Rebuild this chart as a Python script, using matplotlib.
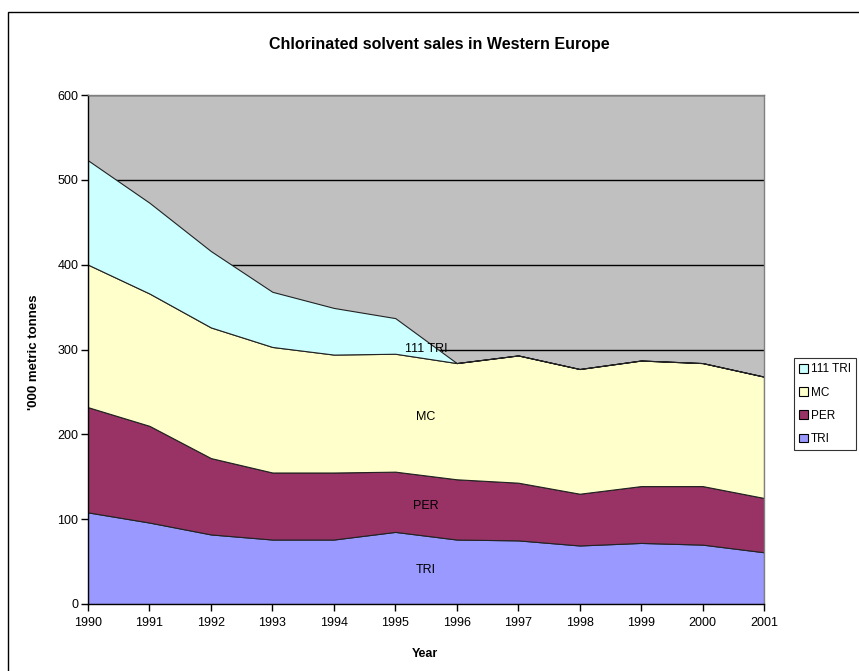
import matplotlib
matplotlib.use("Agg")
import matplotlib.pyplot as plt
from matplotlib.patches import Patch, Rectangle
import numpy as np

plt.rcParams['font.family'] = ['Liberation Sans', 'DejaVu Sans']

years = [1990, 1991, 1992, 1993, 1994, 1995, 1996, 1997, 1998, 1999, 2000, 2001]
tri = [108, 96, 82, 76, 76, 85, 76, 75, 69, 72, 70, 61]
per = [124, 114, 90, 79, 79, 71, 71, 68, 61, 67, 69, 64]
mc = [168, 156, 154, 148, 139, 139, 137, 150, 147, 148, 145, 143]
tri111 = [123, 107, 90, 65, 55, 42, 0, 0, 0, 0, 0, 0]
series_names = ["TRI", "PER", "MC", "111 TRI"]
colors = ["#9999FF", "#993366", "#FFFFCC", "#CCFFFF"]
yticks = [0, 100, 200, 300, 400, 500, 600]

W, H = 859, 671
fig = plt.figure(figsize=(W / 100, H / 100), dpi=100)
fig.patch.set_facecolor("white")

# chart border (extends beyond right/bottom edges as in the reference)
fig.patches.append(Rectangle((8 / W, -0.1), 1.2, 1 - 12 / H + 0.1, transform=fig.transFigure,
                             fill=False, edgecolor="black", linewidth=1.0, clip_on=False))

ax = fig.add_axes([88 / W, 1 - 604 / H, (764 - 88) / W, (604 - 95) / H])
ax.set_facecolor("#C0C0C0")
ax.set_axisbelow(True)

x = np.array(years)
data = [np.array(tri), np.array(per), np.array(mc), np.array(tri111)]
ax.stackplot(x, *data, colors=colors, edgecolor="#222222", linewidth=0.8, zorder=2)

ax.set_xlim(years[0], years[-1])
ax.set_ylim(0, 600)
ax.set_yticks(yticks)
ax.set_xticks(years)
ax.yaxis.grid(True, color="black", linewidth=1.0, zorder=0)
ax.tick_params(axis="both", direction="out", length=5, width=1, labelsize=9, colors="black", pad=2)
ax.tick_params(axis="x", pad=4)
for s in ["left", "bottom"]:
    ax.spines[s].set_color("black")
    ax.spines[s].set_linewidth(1)
for s in ["top", "right"]:
    ax.spines[s].set_color("#808080")
    ax.spines[s].set_linewidth(1)

ax.set_xlabel("Year", fontsize=9, fontweight="bold")
ax.xaxis.set_label_coords((425 - 88) / 676, (604 - 648) / 509)
ax.set_ylabel("'000 metric tonnes", fontsize=9.5, fontweight="bold")
ax.yaxis.set_label_coords((40 - 88) / 676, (604 - 352) / 509)
fig.text(439 / W, 1 - 45 / H, "Chlorinated solvent sales in Western Europe",
         ha="center", va="center", fontsize=11.5, fontweight="bold")

# series name labels at middle of the category range
xm = (years[0] + years[-1]) / 2
cum = np.zeros(len(years))
for name, d in zip(series_names, data):
    lo = np.interp(xm, x, cum)
    cum = cum + d
    hi = np.interp(xm, x, cum)
    ax.text(xm, (lo + hi) / 2, name, ha="center", va="center", fontsize=9, zorder=5)

handles = [Patch(facecolor=c, edgecolor="black", linewidth=0.8) for c in colors][::-1]
labels = series_names[::-1]
leg = fig.legend(handles, labels, loc="upper left",
                 bbox_to_anchor=(794 / W, 1 - 358 / H), fontsize=8.5,
                 frameon=True, fancybox=False, borderpad=0.45,
                 handlelength=0.75, handleheight=0.75, handletextpad=0.25,
                 labelspacing=0.95, borderaxespad=0)
leg.get_frame().set_edgecolor("black")
leg.get_frame().set_linewidth(0.8)

fig.savefig("out.png", dpi=100)
